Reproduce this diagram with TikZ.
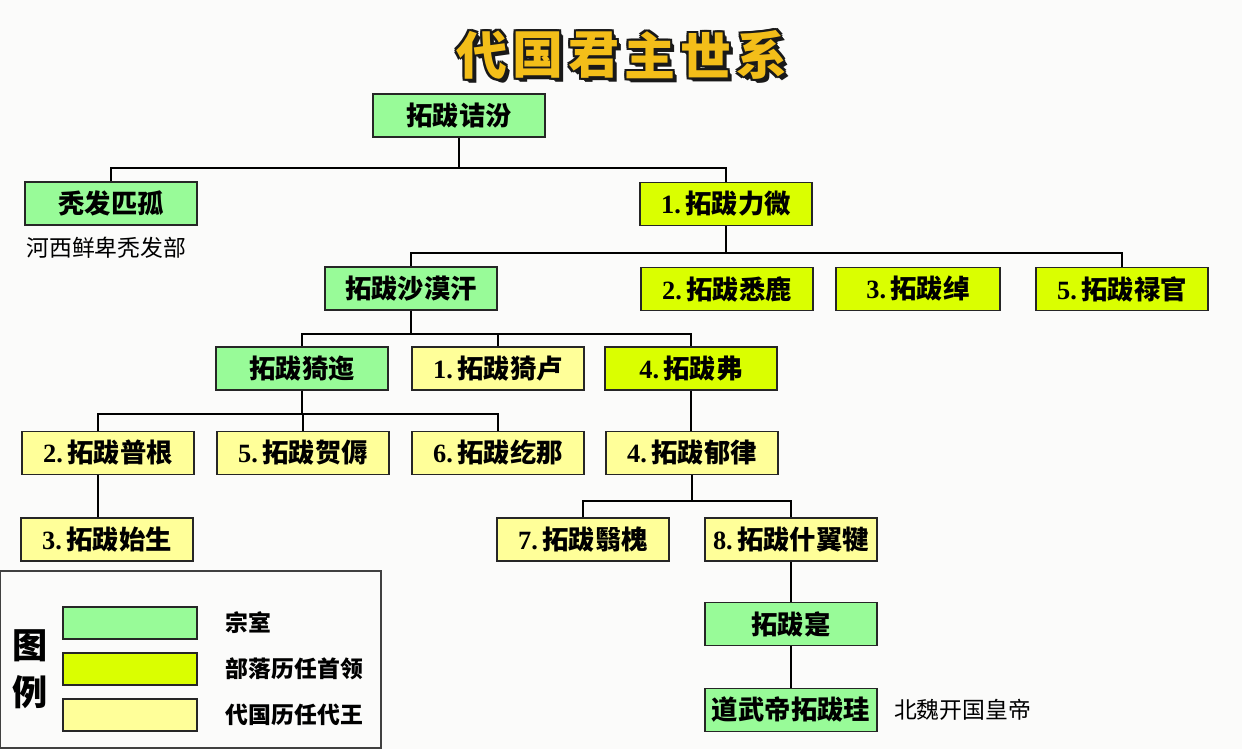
\documentclass[tikz,border=0pt]{standalone}
\usepackage{fontspec}
\setmainfont{Liberation Serif}
\newfontfamily\cjk{Noto Sans CJK SC}
\usepackage{tikz}
\usetikzlibrary{positioning,calc}
\definecolor{zsgreen}{RGB}{152,251,152}
\definecolor{blgreen}{RGB}{218,255,0}
\definecolor{dwyellow}{RGB}{255,255,153}
\definecolor{titlegold}{RGB}{243,190,25}
\definecolor{bgpaper}{RGB}{251,251,250}
\newcommand\xh[1]{{\rmfamily\bfseries #1.}\,}
\tikzset{
  jnode/.style = {rectangle, draw=black!85, line width=0.85pt, align=center,
    inner sep=0pt, minimum width=34.4mm, minimum height=8.6mm,
    font=\cjk\bfseries\fontsize{15}{17}\selectfont},
  jz_g/.style = {jnode, fill=zsgreen},% zongshi
  jz_c/.style = {jnode, fill=blgreen},% buluo shouling
  jz_y/.style = {jnode, fill=dwyellow},% daiwang
  jz_l/.style = {minimum width=26.8mm, minimum height=6.4mm, line width=0.7pt},% legend swatch
  link/.style = {line width=1.1pt, black},
  note/.style = {anchor=west, inner sep=0pt, font=\cjk\fontsize{13}{15}\selectfont},
  ttl/.style = {font=\cjk\bfseries\fontsize{29}{31}\selectfont}
}

\begin{document}
\begin{tikzpicture}[x=0.2mm, y=-0.2mm]
\useasboundingbox (0,0) rectangle (1242,749);
\fill[bgpaper] (0,0) rectangle (1242,749);

% titre
\foreach \c [count=\i from 0] in {代,国,君,主,世,系}{
  \foreach \dx/\dy in {-2/0,2/0,0/-2,0/2,-2/-2,2/2,-2/2,2/-2,3/3,4/4}
    \node[ttl, text=black!90] at (481.5+56*\i+\dx, 55+\dy) {\c};
  \node[ttl, text=titlegold] (t\i) at (481.5+56*\i, 55) {\c};
}

\node[jz_g] (jiefen) at (459,115.5) {拓跋诘汾};
\node[jz_g] (pigu) at (111,203.5) {秃发匹孤};
\node[jz_c] (liwei) at (726,204) {\xh{1}拓跋力微};
\node[note] (hexi) at (26,248) {河西鲜卑秃发部};

\node[jz_g] (shamohan) at (411,288.5) {拓跋沙漠汗};
\node[jz_c] (xilu) at (727,289) {\xh{2}拓跋悉鹿};
\node[jz_c, minimum width=32.8mm] (chuo) at (918,289) {\xh{3}拓跋绰};
\node[jz_c] (luguan) at (1122,289) {\xh{5}拓跋禄官};

\node[jz_g] (yiyi) at (302,368.5) {拓跋猗迤};
\node[jz_y] (yilu) at (498,368.5) {\xh{1}拓跋猗卢};
\node[jz_c] (fu) at (691,368.5) {\xh{4}拓跋弗};

\node[jz_y] (pugen) at (108,453) {\xh{2}拓跋普根};
\node[jz_y] (henu) at (303,453) {\xh{5}拓跋贺傉};
\node[jz_y] (hena) at (498,453) {\xh{6}拓跋纥那};
\node[jz_y] (yulv) at (692,453) {\xh{4}拓跋郁律};

\node[jz_y] (shisheng) at (107,539.5) {\xh{3}拓跋始生};
\node[jz_y] (yihuai) at (583,539.5) {\xh{7}拓跋翳槐};
\node[jz_y] (shiyijian) at (791,539.5) {\xh{8}拓跋什翼犍};

\node[jz_g] (shi) at (791,624) {拓跋寔};
\node[jz_g] (gui) at (791,710) {道武帝拓跋珪};
\node[note, right=3.2mm of gui] (beiwei) {北魏开国皇帝};

% liens
\draw[link] (jiefen.south) -- ++(0,30.5) -| (pigu.north);
\draw[link] (jiefen.south) -- ++(0,30.5) -| (liwei.north);
\draw[link] (liwei.south) -- ++(0,27) -| (shamohan.north);
\draw[link] (liwei.south) -- ++(0,27) -| (luguan.north);
\foreach \n in {yiyi,yilu,fu}
  \draw[link] (shamohan.south) -- ++(0,23) -| (\n.north);
\draw[link] (yiyi.south) -- ++(0,23) -| ([xshift=-2mm]pugen.north);
\foreach \n in {henu,hena}
  \draw[link] (yiyi.south) -- ++(0,23) -| (\n.north);
\draw[link] ([xshift=-2mm]pugen.south) -- ([xshift=-2mm]pugen.south |- shisheng.north);
\draw[link] (fu.south) -- (fu.south |- yulv.north);
\foreach \n in {yihuai,shiyijian}
  \draw[link] (yulv.south) -- ++(0,26) -| (\n.north);
\draw[link] (shiyijian.south) -- (shi.north);
\draw[link] (shi.south) -- (gui.north);

% legende
\draw[draw=black!75, line width=0.9pt] (0,571) rectangle (381,748);
\node[font=\cjk\bfseries\fontsize{20}{22}\selectfont] (tu) at (30,646) {图};
\node[font=\cjk\bfseries\fontsize{20}{22}\selectfont] (li) at (30,692) {例};
\node[jz_g, jz_l] (lg_g) at (130,623) {};
\node[jz_c, jz_l] (lg_c) at (130,669) {};
\node[jz_y, jz_l] (lg_y) at (130,715) {};
\node[note, font=\cjk\bfseries\fontsize{13}{15}\selectfont, right=5.6mm of lg_g] {宗室};
\node[note, font=\cjk\bfseries\fontsize{13}{15}\selectfont, right=5.6mm of lg_c] {部落历任首领};
\node[note, font=\cjk\bfseries\fontsize{13}{15}\selectfont, right=5.6mm of lg_y] {代国历任代王};
\end{tikzpicture}
\end{document}
